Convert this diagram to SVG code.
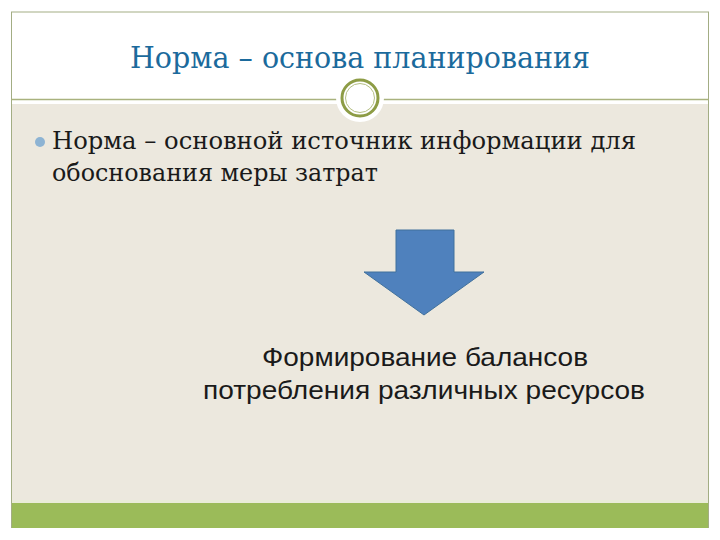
<svg xmlns="http://www.w3.org/2000/svg" width="720" height="540" viewBox="0 0 720 540">
<style>
.frame{fill:none;stroke:#a3ad84;stroke-width:1}
.title{font-family:"DejaVu Serif","Liberation Serif",serif;font-size:29px;fill:#1b6a9c}
.body{font-family:"DejaVu Serif","Liberation Serif",serif;font-size:25px;fill:#1a1a1a}
.box{font-family:"Liberation Sans","DejaVu Sans",sans-serif;font-size:26px;fill:#1a1a1a}
</style>
<rect x="0" y="0" width="720" height="540" fill="#ffffff"/>
<rect x="11" y="104" width="698" height="396" fill="#ece8de"/>
<rect x="11" y="500" width="698" height="3" fill="#e9ecd8"/>
<rect x="11" y="503" width="698" height="25" fill="#9bbb59"/>
<line class="frame" x1="11" y1="12" x2="709" y2="12"/>
<line class="frame" x1="11.5" y1="12" x2="11.5" y2="528"/>
<line class="frame" x1="708.5" y1="12" x2="708.5" y2="528"/>
<line x1="11" y1="99.5" x2="709" y2="99.5" stroke="#a9b27e" stroke-width="1.5"/>
<g id="ornament">
<circle cx="360" cy="98" r="24" fill="#ffffff"/>
<circle cx="360" cy="98" r="18" fill="none" stroke="#8d9c45" stroke-width="3"/>
<circle cx="360" cy="98" r="14.5" fill="none" stroke="#b5bf84" stroke-width="1"/>
</g>
<g id="title"><text class="title" x="130" y="68" textLength="460" lengthAdjust="spacingAndGlyphs">Норма – основа планирования</text></g>
<g id="bullet">
<circle cx="40" cy="142" r="5" fill="#8db3d3"/>
<text class="body" x="52" y="149" textLength="584" lengthAdjust="spacingAndGlyphs">Норма – основной источник информации для</text>
<text class="body" x="52" y="181" textLength="326" lengthAdjust="spacingAndGlyphs">обоснования меры затрат</text>
</g>
<g id="connectors">
<polygon points="396,230 454,230 454,272 484,272 424,315 364,272 396,272" fill="#4f81bd" stroke="#41719c" stroke-width="1"/>
</g>
<g id="result">
<text class="box" x="262" y="366" textLength="326" lengthAdjust="spacingAndGlyphs">Формирование балансов</text>
<text class="box" x="203" y="399" textLength="442" lengthAdjust="spacingAndGlyphs">потребления различных ресурсов</text>
</g>
</svg>
